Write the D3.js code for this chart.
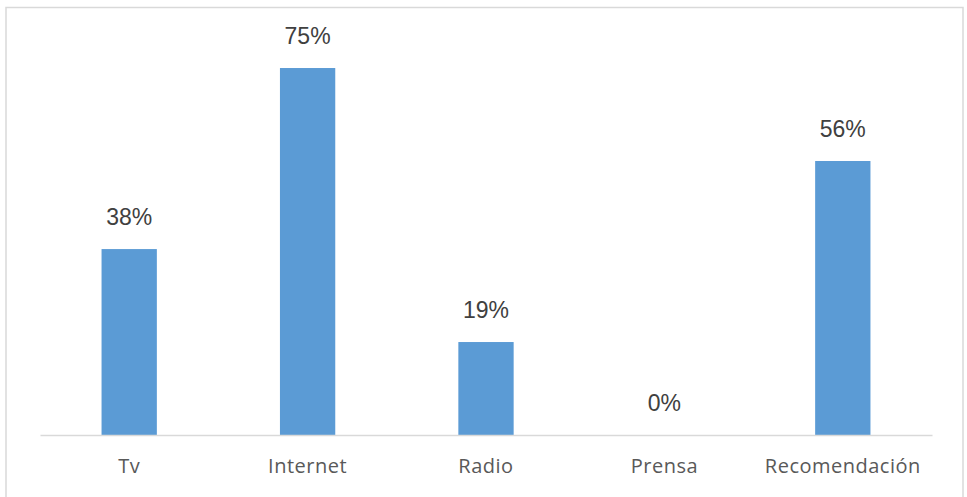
<!DOCTYPE html>
<html>
<head>
<meta charset="utf-8">
<script src="https://cdn.jsdelivr.net/npm/d3@7"></script>
<style>
  body { margin: 0; background: #fff; }
</style>
</head>
<body>
<svg id="chart" width="967" height="497"></svg>
<script>
const categories = ["Tv", "Internet", "Radio", "Prensa", "Recomendación"];
const values = [0.38, 0.75, 0.19, 0, 0.56];
const valueLabels = ["38%", "75%", "19%", "0%", "56%"];

const svg = d3.select("#chart");
const margin = { top: 44, right: 35, bottom: 62, left: 40 };
const width = 967 - margin.left - margin.right;
const baseY = 435;

// outer frame
svg.append("rect")
    .attr("x", 6).attr("y", 7.5)
    .attr("width", 957).attr("height", 500)
    .attr("fill", "none")
    .attr("stroke", "#d9d9d9")
    .attr("stroke-width", 1.5);

const data = categories.map((c, i) => ({ name: c, value: values[i], label: valueLabels[i] }));

const x = d3.scaleBand()
    .domain(categories)
    .range([margin.left, margin.left + width])
    .paddingInner(0.69)
    .paddingOuter(0.345);

const y = d3.scaleLinear()
    .domain([0, 0.8])
    .range([baseY, baseY - 0.8 * 489.3]);

svg.append("g")
    .selectAll("rect")
    .data(data)
    .join("rect")
    .attr("x", d => x(d.name))
    .attr("y", d => y(d.value))
    .attr("width", x.bandwidth())
    .attr("height", d => baseY - y(d.value))
    .attr("fill", "#5b9bd5");

// baseline axis
const axis = svg.append("g")
    .attr("transform", `translate(0, ${baseY})`)
    .call(d3.axisBottom(x).tickSize(0).tickPadding(0));
axis.select(".domain").attr("stroke", "#d9d9d9").attr("stroke-width", 1.5);
axis.selectAll("text")
    .attr("dy", null)
    .attr("y", 38)
    .attr("fill", "#595959")
    .style("font-family", "'Open Sans', sans-serif")
    .style("font-size", "20px")
    .style("letter-spacing", "0.5px");

// value labels
svg.append("g")
    .selectAll("text")
    .data(data)
    .join("text")
    .attr("x", d => x(d.name) + x.bandwidth() / 2)
    .attr("y", d => y(d.value) - 24)
    .attr("text-anchor", "middle")
    .attr("fill", "#404040")
    .style("font-family", "'Liberation Sans', Arial, sans-serif")
    .style("font-size", "23px")
    .text(d => d.label);
</script>
</body>
</html>
